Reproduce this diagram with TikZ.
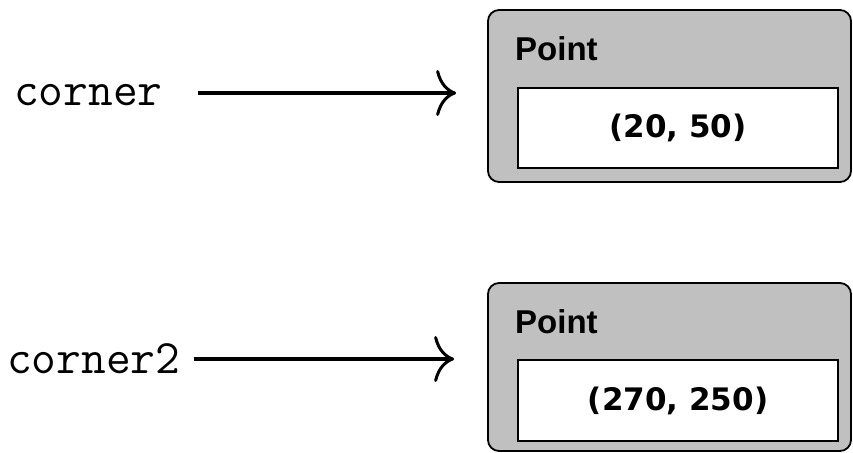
\documentclass[tikz,border=0pt]{standalone}
\usepackage{fontspec}
\setmainfont{Liberation Sans}
\newfontfamily\valfont{DejaVu Sans}
\usetikzlibrary{arrows.meta,calc}
\definecolor{boxgray}{HTML}{C0C0C0}
\begin{document}
\begin{tikzpicture}[x=1pt,y=-1pt,
  outerbox/.style={draw=black, line width=1.8pt, fill=boxgray, rounded corners=11pt, minimum width=363pt, inner sep=0pt},
  valbox/.style={draw=black, line width=2.2pt, fill=white, minimum width=320pt, inner sep=0pt, font=\valfont\bfseries\fontsize{31}{36}\selectfont},
  title/.style={anchor=base west, inner sep=0pt, font=\bfseries\fontsize{33}{38}\selectfont},
  varname/.style={anchor=base west, inner sep=0pt, font=\ttfamily\fontsize{48}{54}\selectfont},
  ptr/.style={line width=3.8pt, -{To[length=20pt,width=46pt,line width=3pt]}}]
\useasboundingbox (0,0) rectangle (853,452);
% first object
\node[outerbox, minimum height=172pt] (o1) at (669.5,96) {};
\node[title] (t1) at (515,60) {Point};
\node[valbox, minimum height=80pt] (v1) at (678,128) {(20, 50)};
% second object
\node[outerbox, minimum height=168pt] (o2) at (669.5,367) {};
\node[title] (t2) at (515,333) {Point};
\node[valbox, minimum height=81pt] (v2) at (678,400.5) {(270, 250)};
% variables
\node[varname] (c1) at (14,105) {corner};
\node[varname] (c2) at (7,373) {corner2};
\coordinate (h1) at ($(o1.west)+(-31,-3)$);
\coordinate (h2) at ($(o2.west)+(-33,-8)$);
\draw[ptr] ($(c1.east |- h1)+(35,0)$) -- (h1);
\draw[ptr] ($(c2.east |- h2)+(14,0)$) -- (h2);
\end{tikzpicture}
\end{document}
